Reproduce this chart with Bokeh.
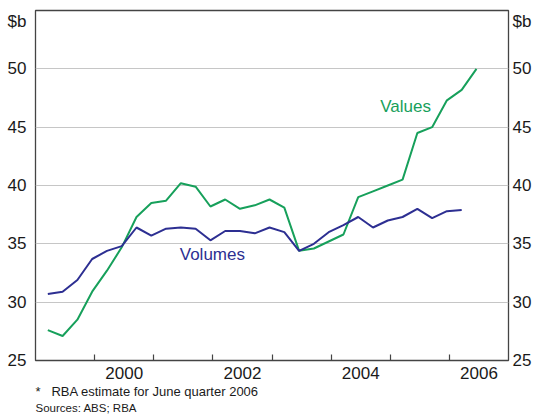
import pandas as pd
from bokeh.plotting import figure
from bokeh.models import FixedTicker, LinearAxis, Label, Range1d, Title
from bokeh.embed import file_html
from bokeh.resources import INLINE

# ---- data (A$ billion, quarterly) ----
quarters = [str(q) for q in pd.period_range("1999Q1", "2006Q2", freq="Q")]
values = [27.6, 27.1, 28.5, 30.9, 32.7, 34.7, 37.3, 38.5, 38.7, 40.2,
          39.9, 38.2, 38.8, 38.0, 38.3, 38.8, 38.1, 34.4, 34.6, 35.2,
          35.8, 39.0, 39.5, 40.0, 40.5, 44.5, 45.0, 47.3, 48.2, 50.0]
volumes = [30.7, 30.9, 31.9, 33.7, 34.4, 34.8, 36.4, 35.7, 36.3, 36.4,
           36.3, 35.3, 36.1, 36.1, 35.9, 36.4, 36.0, 34.4, 35.0, 36.0,
           36.6, 37.3, 36.4, 37.0, 37.3, 38.0, 37.2, 37.8, 37.9]
y_ticks = [25, 30, 35, 40, 45, 50]
unit_label = "$b"
unit_pos = 54.1
year_bounds = [2000, 2001, 2002, 2003, 2004, 2005, 2006]
year_labels = ["2000", "2002", "2004", "2006"]
footnote = "*\u00a0\u00a0\u00a0RBA estimate for June quarter 2006"
sources = "Sources: ABS; RBA"

GREEN = "#17a05b"
BLUE = "#2d2f92"
TXT = "#1a1a1a"
FONT = "Liberation Sans"


def qpos(q):
    return int(q[:4]) + (3 * int(q[-1]) - 0.5) / 12.0


xv = [qpos(q) for q in quarters]
xvol = xv[:len(volumes)]

p = figure(width=535, height=415, output_backend="svg", toolbar_location=None,
           x_range=Range1d(1999, 2007), y_range=Range1d(25, 55),
           min_border_left=35, min_border_right=27, min_border_top=10,
           min_border_bottom=55)
p.outline_line_color = "#444444"
p.outline_line_width = 1.3
p.background_fill_color = "white"
p.border_fill_color = "white"

p.line(xv, values, line_color=GREEN, line_width=2)
p.line(xvol, volumes, line_color=BLUE, line_width=2)

# x axis: ticks at year boundaries, labels centred on even years
p.xaxis.ticker = FixedTicker(ticks=[int(t) + 0.5 for t in year_labels],
                             minor_ticks=year_bounds)
p.xaxis.major_label_overrides = {int(t) + 0.5: t for t in year_labels}
p.xaxis.major_tick_in = 0
p.xaxis.major_tick_out = 0
p.xaxis.minor_tick_in = 6
p.xaxis.minor_tick_out = 0
p.xaxis.minor_tick_line_color = "#444444"
p.xaxis.minor_tick_line_width = 1.2
p.xaxis.axis_line_color = None
p.xaxis.major_label_standoff = 6
p.xaxis.major_label_text_font = FONT
p.xaxis.major_label_text_font_size = "17px"
p.xaxis.major_label_text_color = TXT
p.xgrid.grid_line_color = None

# y axes (left and right), with the unit label at the top
p.ygrid.ticker = FixedTicker(ticks=y_ticks)
p.ygrid.grid_line_color = "#c6c6c6"
p.ygrid.grid_line_width = 1.2
right = LinearAxis()
p.add_layout(right, "right")
for ax, so in ((p.yaxis[0], 9), (right, 4)):
    ax.ticker = FixedTicker(ticks=y_ticks + [unit_pos])
    ax.major_label_overrides = {unit_pos: unit_label}
    ax.major_tick_in = 0
    ax.major_tick_out = 0
    ax.minor_tick_line_color = None
    ax.axis_line_color = None
    ax.major_label_standoff = so
    ax.major_label_text_font = FONT
    ax.major_label_text_font_size = "17px"
    ax.major_label_text_color = TXT

# series labels
p.add_layout(Label(x=2004.83, y=46.8, text="Values", text_align="left",
                   text_baseline="middle", text_font=FONT,
                   text_font_size="17px", text_color=GREEN))
p.add_layout(Label(x=2001.44, y=34.05, text="Volumes", text_align="left",
                   text_baseline="middle", text_font=FONT,
                   text_font_size="17px", text_color=BLUE))

# footnotes
for t, so, fs in ((footnote, 0, "13px"), (sources, 3, "11.5px")):
    p.add_layout(Title(text=t, align="left", standoff=so,
                       text_font=FONT, text_font_size=fs,
                       text_font_style="normal", text_color=TXT), "below")

open("out.html", "w").write(file_html(p, INLINE))
